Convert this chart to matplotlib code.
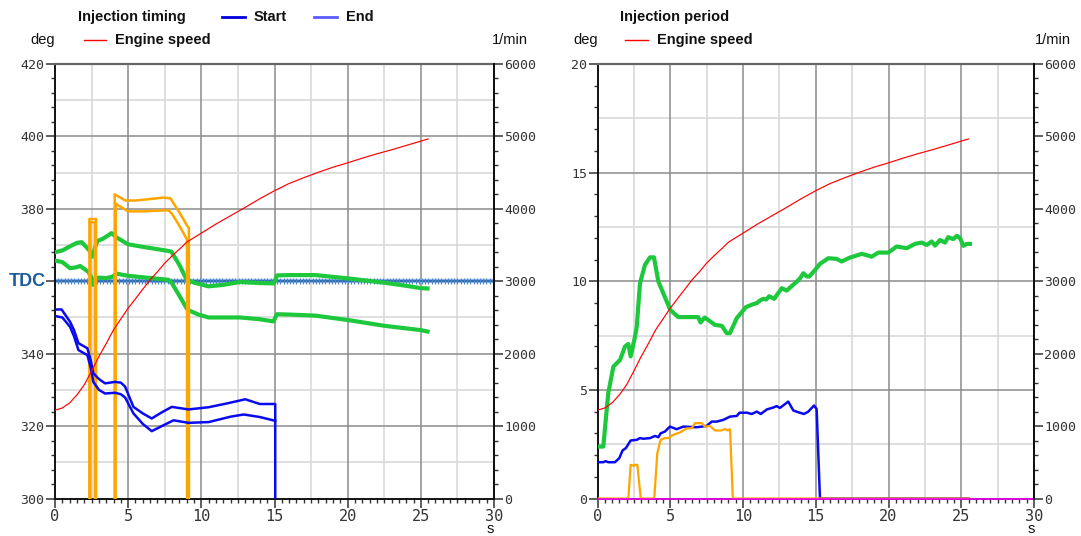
import numpy as np
import matplotlib
matplotlib.use('Agg')
import matplotlib.pyplot as plt
from matplotlib.ticker import MultipleLocator, FixedLocator

# ---------------- data (time s, value) ----------------
speed = [(0, 1220), (0.5, 1250), (1, 1320), (1.5, 1430), (2, 1570), (2.5, 1760), (3, 1960),
         (3.5, 2140), (4, 2330), (5, 2628), (6, 2890), (6.5, 3020), (7, 3130), (7.5, 3250),
         (8, 3350), (8.65, 3470), (9, 3540), (10, 3664), (11, 3790), (12, 3905), (13, 4020),
         (14, 4140), (15, 4250), (16, 4350), (17, 4430), (18, 4505), (19, 4575), (20, 4635),
         (21, 4700), (22, 4760), (23, 4815), (24, 4875), (25, 4935), (25.5, 4965)]

timing_green_upper = [(0, 368.0), (0.5, 368.5), (1.0, 369.6), (1.5, 370.6), (1.82, 370.8), (2.1, 369.6),
                      (2.35, 368.5), (2.57, 366.8), (2.75, 369.5), (2.9, 371.1), (3.3, 371.8), (3.87, 373.3),
                      (4.2, 372.1), (5.0, 370.2), (6.0, 369.5), (7.4, 368.6), (7.95, 368.2), (8.5, 364.5),
                      (9.0, 360.4), (9.12, 360.2), (9.6, 359.5), (10.49, 358.6), (11.5, 359.0), (12.65, 359.8),
                      (14.0, 359.5), (14.95, 359.4), (15.16, 361.6), (16.0, 361.7), (17.8, 361.7), (20.0, 360.8),
                      (22.5, 359.6), (23.9, 358.8), (25.0, 358.1), (25.46, 358.0)]

timing_green_lower = [(0, 365.7), (0.5, 365.3), (1.03, 363.6), (1.4, 363.8), (1.72, 364.2), (2.28, 362.6),
                      (2.5, 361.0), (2.62, 359.0), (2.75, 360.5), (2.96, 361.0), (3.5, 360.9), (3.9, 361.2),
                      (4.2, 362.1), (5.0, 361.5), (6.5, 360.9), (7.75, 360.4), (8.0, 359.4), (8.5, 356.0),
                      (9.0, 352.5), (9.12, 352.0), (9.8, 350.8), (10.49, 350.0), (12.65, 350.0), (14.0, 349.5),
                      (14.93, 348.9), (15.16, 350.9), (16.0, 350.8), (17.8, 350.5), (20.0, 349.3), (22.5, 347.7),
                      (25.0, 346.5), (25.46, 346.1)]

timing_blue_upper = [(0, 352.2), (0.45, 352.2), (1.03, 348.8), (1.3, 346.5), (1.6, 342.9), (2.21, 341.5),
                     (2.45, 338.0), (2.62, 334.6), (3.0, 333.0), (3.42, 331.8), (4.1, 332.2), (4.5, 332.0),
                     (4.79, 330.9), (5.36, 325.3), (6.0, 323.5), (6.61, 322.1), (7.3, 323.8), (7.98, 325.3),
                     (9.12, 324.6), (10.49, 325.2), (11.8, 326.3), (13.0, 327.4), (14.0, 326.1), (15.05, 326.1),
                     (15.06, 0), (25.5, 0)]

timing_blue_lower = [(0, 350.4), (0.5, 350.0), (1.03, 347.4), (1.3, 344.8), (1.6, 341.0), (2.21, 339.6),
                     (2.45, 336.0), (2.62, 332.2), (3.0, 330.0), (3.42, 329.0), (4.1, 329.2), (4.5, 328.8),
                     (4.79, 327.9), (5.36, 323.5), (6.0, 320.6), (6.61, 318.6), (7.3, 320.0), (8.1, 321.6),
                     (9.12, 320.9), (10.49, 321.1), (12.0, 322.6), (12.9, 323.2), (14.0, 322.5), (15.0, 321.5),
                     (15.05, 321.5)]

timing_orange_a = [(0, 0), (2.33, 0), (2.35, 377.2), (2.80, 377.2), (2.82, 0), (4.05, 0), (4.08, 384.0),
                   (4.25, 383.6), (4.8, 382.3), (5.5, 382.3), (6.5, 382.7), (7.4, 383.1), (7.9, 382.9),
                   (8.1, 381.5), (8.5, 379.0), (9.05, 375.2), (9.15, 374.8), (9.17, 0), (25.5, 0)]

timing_orange_b = [(0, 0), (2.40, 0), (2.42, 376.3), (2.72, 376.3), (2.74, 0), (4.12, 0), (4.15, 381.5),
                   (4.3, 381.0), (5.0, 379.3), (6.0, 379.3), (7.0, 379.5), (7.75, 379.6), (8.0, 378.6),
                   (8.4, 376.0), (8.78, 373.3), (9.02, 371.5), (9.05, 0), (25.5, 0)]

period_green = [(0, 2.39), (0.4, 2.39), (0.55, 3.5), (0.74, 4.85), (1.09, 6.07), (1.55, 6.38), (1.89, 7.0),
                (2.12, 7.11), (2.28, 6.54), (2.58, 7.46), (2.7, 7.92), (2.92, 9.91), (3.26, 10.75), (3.61, 11.1),
                (3.88, 11.1), (4.18, 9.99), (4.52, 9.45), (5.0, 8.68), (5.55, 8.35), (6.92, 8.35), (7.08, 8.1),
                (7.37, 8.33), (8.08, 7.99), (8.54, 7.95), (8.88, 7.61), (9.1, 7.61), (9.57, 8.3), (10.2, 8.81),
                (10.6, 8.92), (10.96, 9.0), (11.2, 9.13), (11.4, 9.19), (11.6, 9.16), (11.8, 9.31), (12.14, 9.19),
                (12.66, 9.68), (13.0, 9.57), (13.69, 9.98), (13.92, 10.14), (14.15, 10.37), (14.38, 10.22),
                (14.56, 10.22), (14.95, 10.52), (15.29, 10.8), (15.86, 11.06), (16.43, 11.03), (16.78, 10.91),
                (17.35, 11.09), (18.16, 11.26), (18.5, 11.2), (18.84, 11.13), (19.3, 11.32), (19.99, 11.32),
                (20.56, 11.6), (21.25, 11.52), (21.82, 11.72), (22.28, 11.78), (22.63, 11.67), (22.97, 11.83),
                (23.2, 11.64), (23.54, 11.9), (23.88, 11.78), (24.11, 12.03), (24.45, 11.94), (24.69, 12.09),
                (24.92, 11.98), (25.15, 11.63), (25.38, 11.72), (25.6, 11.72)]

period_blue = [(0, 1.67), (0.4, 1.67), (0.55, 1.72), (0.74, 1.67), (1.2, 1.67), (1.5, 1.86), (1.72, 2.21),
               (1.95, 2.32), (2.28, 2.67), (2.7, 2.7), (2.92, 2.78), (3.15, 2.75), (3.61, 2.78), (3.95, 2.88),
               (4.18, 2.82), (4.34, 3.0), (4.63, 3.08), (4.98, 3.31), (5.44, 3.19), (5.9, 3.31), (6.82, 3.28),
               (7.5, 3.34), (7.85, 3.54), (8.2, 3.54), (8.65, 3.62), (9.11, 3.77), (9.57, 3.8), (9.76, 3.95),
               (10.27, 3.95), (10.6, 3.89), (10.95, 4.0), (11.22, 3.89), (11.64, 4.1), (12.09, 4.19),
               (12.31, 4.25), (12.54, 4.17), (13.11, 4.46), (13.46, 4.05), (13.8, 3.97), (14.19, 3.89),
               (14.49, 4.0), (14.88, 4.28), (15.06, 4.12), (15.29, 0), (25.5, 0)]

period_orange = [(0, 0), (2.12, 0), (2.28, 1.55), (2.5, 1.5), (2.6, 1.55), (2.74, 1.55), (2.97, 0), (3.9, 0),
                 (4.11, 2.09), (4.34, 2.7), (4.63, 2.78), (4.86, 2.78), (5.2, 2.93), (5.67, 3.04), (6.13, 3.23),
                 (6.47, 3.23), (6.7, 3.47), (7.16, 3.47), (7.39, 3.31), (7.73, 3.34), (8.08, 3.13), (8.53, 3.13),
                 (8.76, 3.2), (8.95, 3.13), (9.11, 3.19), (9.3, 0), (25.5, 0)]

period_magenta = [(0, 0), (30, 0)]

TDC = 360
x_ticks = [0, 5, 10, 15, 20, 25, 30]
timing_ticks = [300, 320, 340, 360, 380, 400, 420]
timing_labels = ['300', '320', '340', '', '380', '400', '420']
period_ticks = [0, 5, 10, 15, 20]
period_labels = ['0', '5', '10', '15', '20']
rpm_ticks = [0, 1000, 2000, 3000, 4000, 5000, 6000]
rpm_labels = ['0', '1000', '2000', '3000', '4000', '5000', '6000']

# ---------------- style ----------------
GREEN = '#1ec83c'
BLUE = '#0a0aee'
ORANGE = '#ffa500'
RED = '#ff0000'
MAGENTA = '#ff00ff'
MAJ_GRID = '#8c8c8c'
MIN_GRID = '#d6d6d6'
TICKC = '#333333'
MONO = 'DejaVu Sans Mono'
SANS = 'Liberation Sans'

fig = plt.figure(figsize=(10.81, 5.36), dpi=100)
H = 536.0
W = 1081.0
bottom = 1 - 498.5 / H
height = 434.5 / H
axL = fig.add_axes([55 / W, bottom, 439 / W, height])
axR = fig.add_axes([597.5 / W, bottom, 436.5 / W, height])


def xy(pairs):
    t, v = zip(*pairs)
    return np.array(t), np.array(v)


def style(ax, ylim, yticks, ylabels, ymin_step, ygrid_minor_step):
    ax.set_xlim(0, 30)
    ax.set_ylim(*ylim)
    ax.xaxis.set_major_locator(FixedLocator(x_ticks))
    ax.xaxis.set_minor_locator(MultipleLocator(0.5))
    ax.yaxis.set_major_locator(FixedLocator(yticks))
    ax.yaxis.set_minor_locator(MultipleLocator(ymin_step))
    ax.set_xticklabels([str(v) for v in x_ticks], fontfamily=MONO, fontsize=11, color=TICKC)
    ax.set_yticklabels(ylabels, fontfamily=MONO, fontsize=9.5, color=TICKC)
    for xv in np.arange(2.5, 30, 5):
        ax.axvline(xv, color=MIN_GRID, lw=1.1, zorder=0.5)
    for yv in np.arange(ylim[0] + ygrid_minor_step, ylim[1], 2 * ygrid_minor_step):
        ax.axhline(yv, color=MIN_GRID, lw=1.1, zorder=0.5)
    for xv in x_ticks[1:-1]:
        ax.axvline(xv, color=MAJ_GRID, lw=1.1, zorder=0.6)
    for yv in yticks[1:-1]:
        ax.axhline(yv, color=MAJ_GRID, lw=1.1, zorder=0.6)
    ax.tick_params(which='major', direction='out', length=6.5, width=1.1, color=TICKC, pad=1)
    ax.tick_params(which='minor', direction='out', length=3, width=1.0, color=TICKC)
    for s in ['left', 'right', 'bottom']:
        ax.spines[s].set_linewidth(1.4)
        ax.spines[s].set_color('#111111')
    ax.spines['top'].set_linewidth(1.6)
    ax.spines['top'].set_color('#666666')


def style_twin(tw):
    tw.set_ylim(0, 6000)
    tw.yaxis.set_major_locator(FixedLocator(rpm_ticks))
    tw.yaxis.set_minor_locator(MultipleLocator(200))
    tw.set_yticklabels(rpm_labels, fontfamily=MONO, fontsize=9.5, color=TICKC)
    tw.tick_params(which='major', direction='out', length=6.5, width=1.1, color=TICKC, pad=1)
    tw.tick_params(which='minor', direction='out', length=3, width=1.0, color=TICKC)
    for s in ['left', 'top', 'bottom']:
        tw.spines[s].set_visible(False)
    tw.spines['right'].set_linewidth(1.4)
    tw.spines['right'].set_color('#111111')


# ---------------- left: injection timing ----------------
style(axL, (300, 420), timing_ticks, timing_labels, 4, 10)
tdc_x = np.arange(0, 30.01, 0.22)
axL.plot([0, 30], [TDC, TDC], color='#8fb6e6', lw=3.0, zorder=1.7)
axL.plot([0, 30], [TDC, TDC], color='#1f5fa8', lw=1.2, zorder=1.8)
axL.plot(tdc_x, np.full_like(tdc_x, TDC), ls='none', marker='|', ms=5, mew=0.8, color='#4f86c8', zorder=1.9)
axL.text(-0.02, TDC, 'TDC', transform=axL.get_yaxis_transform(), ha='right', va='center',
         fontfamily=SANS, fontweight='bold', fontsize=13, color='#1c5b9c')

for pairs in (timing_green_upper, timing_green_lower):
    t, v = xy(pairs)
    axL.plot(t, v, color=GREEN, lw=3.0, solid_joinstyle='round', zorder=3)
for pairs in (timing_orange_a, timing_orange_b):
    t, v = xy(pairs)
    axL.plot(t, v, color=ORANGE, lw=1.8, zorder=4)
for pairs in (timing_blue_upper, timing_blue_lower):
    t, v = xy(pairs)
    axL.plot(t, v, color=BLUE, lw=1.8, zorder=4)

twL = axL.twinx()
style_twin(twL)
t, v = xy(speed)
twL.plot(t, v, color=RED, lw=0.85)
axL.yaxis.tick_left()

# ---------------- right: injection period ----------------
style(axR, (0, 20), period_ticks, period_labels, 1, 2.5)
t, v = xy(period_blue)
axR.plot(t, v, color=BLUE, lw=1.8, zorder=3)
t, v = xy(period_orange)
axR.plot(t, v, color=ORANGE, lw=1.6, zorder=3.5)
t, v = xy(period_green)
axR.plot(t, v, color=GREEN, lw=3.0, solid_joinstyle='round', zorder=4)
t, v = xy(period_magenta)
axR.plot(t, v, color=MAGENTA, lw=1.2, zorder=5, clip_on=False)

twR = axR.twinx()
style_twin(twR)
t, v = xy(speed)
twR.plot(t, v, color=RED, lw=0.85)
axR.yaxis.tick_left()


# ---------------- header texts ----------------
def fx(px):
    return px / W


def fy(py):
    return 1 - py / H


bold = dict(fontfamily=SANS, fontweight='bold', fontsize=10.5, va='center', ha='left', color='#111111')
norm = dict(fontfamily=SANS, fontsize=10.5, va='center', color='#111111')

fig.text(fx(78), fy(17), 'Injection timing', **bold)
fig.lines.append(plt.Line2D([fx(222), fx(245)], [fy(17), fy(17)], transform=fig.transFigure, color='#0000dd', lw=2))
fig.text(fx(254), fy(17), 'Start', **bold)
fig.lines.append(plt.Line2D([fx(314), fx(337)], [fy(17), fy(17)], transform=fig.transFigure, color='#5a5aff', lw=2))
fig.text(fx(346), fy(17), 'End', **bold)
fig.text(fx(55), fy(40), 'deg', ha='right', **norm)
fig.lines.append(plt.Line2D([fx(84), fx(106)], [fy(40), fy(40)], transform=fig.transFigure, color=RED, lw=1))
fig.text(fx(115), fy(40), 'Engine speed', **bold)
fig.text(fx(528), fy(40), '1/min', ha='right', **norm)
fig.text(fx(490), fy(529), 's', ha='center', **norm)

fig.text(fx(620), fy(17), 'Injection period', **bold)
fig.text(fx(598), fy(40), 'deg', ha='right', **norm)
fig.lines.append(plt.Line2D([fx(625), fx(648)], [fy(40), fy(40)], transform=fig.transFigure, color=RED, lw=1))
fig.text(fx(657), fy(40), 'Engine speed', **bold)
fig.text(fx(1071), fy(40), '1/min', ha='right', **norm)
fig.text(fx(1031), fy(529), 's', ha='center', **norm)

fig.savefig('out.png', dpi=100)
